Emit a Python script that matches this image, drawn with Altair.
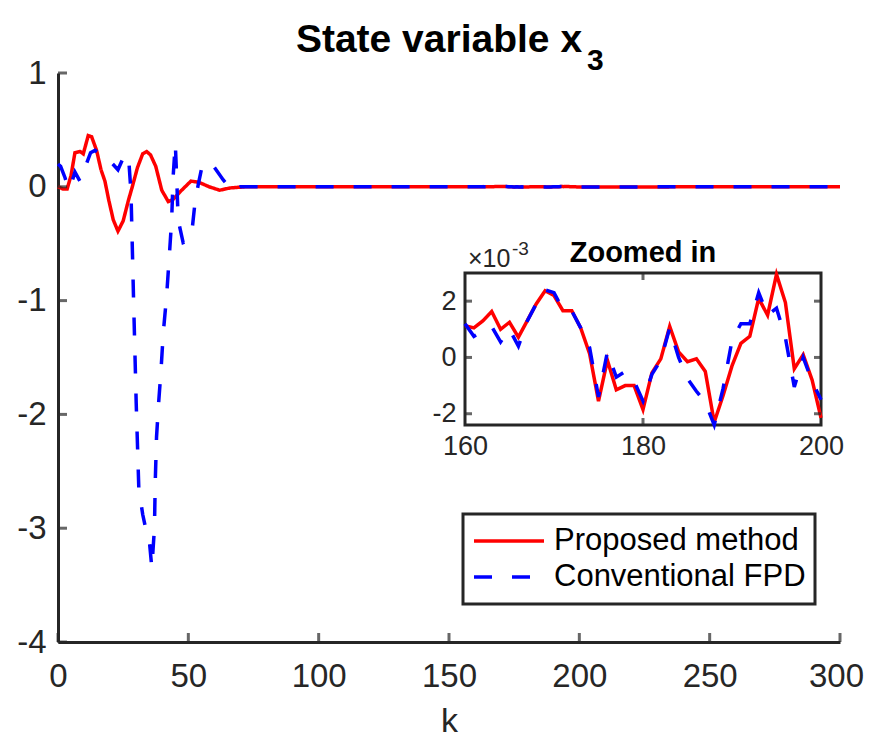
import altair as alt
import pandas as pd

# ---------------- data ----------------
methods = ["Proposed method", "Conventional FPD"]
colors = ["#ff0000", "#0000ff"]

# transient part of the main plot (k, x3)
red_k = [0, 2, 3.5, 5, 6.5, 8.5, 9.7, 11.6, 12.9, 14.8, 16.5, 18, 19.5, 21.2, 23, 25, 27, 28.5,
         30.5, 32.5, 34, 35.5, 37.5, 39.8, 42.3, 44.2, 47, 51, 54, 58, 62, 66, 72, 80, 150]
red_v = [0.0, -0.02, -0.02, 0.1, 0.3, 0.31, 0.29, 0.45, 0.44, 0.32, 0.15, 0.05, -0.12, -0.29,
         -0.39, -0.3, -0.12, 0.0, 0.17, 0.29, 0.31, 0.28, 0.18, -0.03, -0.13, -0.11, -0.04, 0.05,
         0.04, 0.0, -0.03, -0.01, 0.0, 0.0, 0.0]

blue_k = [0, 1, 2.7, 4, 5.2, 6.5, 8.4, 10.4, 12.5, 14.2, 16.8, 19.3, 21, 23, 25.7, 27.2, 28, 29,
          30, 31, 32.5, 34, 35, 36, 37, 37.3, 37.8, 38.6, 39.5, 40.4, 41.7, 42.7, 43.6, 44.2, 45,
          45.5, 46.1, 48, 50, 51.3, 52.5, 53.8, 55, 56.5, 58.3, 60, 63.4, 67.2, 70, 80, 150]
blue_v = [0.2, 0.18, 0.08, -0.02, 0.03, 0.13, 0.05, 0.17, 0.3, 0.32, 0.28, 0.24, 0.2, 0.15, 0.29,
          0.22, -0.05, -1.0, -1.9, -2.65, -2.88, -3.04, -3.1, -3.35, -3.0, -2.6, -2.2, -1.9, -1.62,
          -1.28, -0.95, -0.61, -0.29, 0.1, 0.38, 0.1, -0.29, -0.49, -0.47, -0.41, -0.15, 0.02, 0.15,
          0.2, 0.22, 0.17, 0.06, -0.04, 0.0, 0.0, 0.0]

# zoomed part, k = 160..200, values in units of 1e-3
inset_k = list(range(160, 201))
red_in = [1.13, 1.05, 1.3, 1.63, 1.0, 1.25, 0.72, 1.31, 1.9, 2.37, 2.2, 1.66, 1.66, 1.05, 0.13,
          -1.55, -0.1, -1.15, -1.0, -1.0, -1.85, -0.55, -0.05, 1.1, 0.2, -0.15, -0.05, -0.5,
          -2.3, -1.35, -0.3, 0.5, 0.75, 2.1, 1.5, 2.95, 1.95, -0.4, 0.1, -0.8, -2.15]
blue_in = [1.2, 0.75, 0.95, 1.1, 0.55, 1.0, 0.4, 1.3, 1.9, 2.4, 2.3, 1.7, 1.65, 1.05, 0.35,
           -1.4, 0.2, -0.7, -0.5, -0.85, -1.55, -0.6, -0.1, 1.05, 0.0, -0.75, -1.2, -1.6,
           -2.4, -1.1, 0.6, 1.2, 1.2, 2.3, 1.5, 1.75, 0.7, -1.05, 0.0, -0.85, -1.5]

tail_k = [250, 300]
tail_v = [0.0, 0.0]

x_ticks = [0, 50, 100, 150, 200, 250, 300]
y_ticks = [-4, -3, -2, -1, 0, 1]
inset_x_ticks = [160, 180, 200]
inset_y_ticks = [-2, 0, 2]
inset_x_dom = [160, 200]
inset_y_dom = [-2.4, 3.0]

title_main = "State variable x"
title_sub = "3"
inset_title = "Zoomed in"
inset_exp_base = "×10"
inset_exp_pow = "-3"

# ---------------- layout ----------------
W, H = 782, 569
IX0, IX1, IY0, IY1 = 407, 763, 200, 352
FONT = "Liberation Sans"
AX = "#262626"

red_df = pd.DataFrame({"k": red_k + inset_k + tail_k,
                       "v": red_v + [v * 1e-3 for v in red_in] + tail_v,
                       "method": methods[0]})
blue_df = pd.DataFrame({"k": blue_k + inset_k + tail_k,
                        "v": blue_v + [v * 1e-3 for v in blue_in] + tail_v,
                        "method": methods[1]})
ired_df = pd.DataFrame({"k": inset_k, "v": red_in})
iblue_df = pd.DataFrame({"k": inset_k, "v": blue_in})

xs = alt.Scale(domain=[0, 300], nice=False, zero=False)
ys = alt.Scale(domain=[-4, 1], nice=False, zero=False)

xaxis = alt.Axis(values=x_ticks, labelFontSize=33, labelFont=FONT, labelColor=AX,
                 labelPadding=18, labelFlush=False, ticks=False, domainColor=AX,
                 domainWidth=3, grid=False, title="k", titleFontSize=34, titleFont=FONT,
                 titleFontWeight="normal", titleColor=AX, titleY=89,
                 titleBaseline="alphabetic", labelExpr="toString(datum.value)",
                 labelOffset={"condition": {"test": "datum.value == 300", "value": -4},
                              "value": 0})
yaxis = alt.Axis(values=y_ticks, labelFontSize=33, labelFont=FONT, labelColor=AX,
                 labelPadding=12, ticks=False, domainColor=AX, domainWidth=3, grid=False,
                 title=None, labelExpr="toString(datum.value)")

leg = alt.Legend(title=None, orient="none", legendX=405, legendY=441, direction="vertical",
                 symbolType="stroke", symbolSize=4900, symbolStrokeWidth=3.5,
                 labelFontSize=31, labelFont=FONT, labelColor="#000000", labelLimit=500,
                 padding=9, labelOffset=8, clipHeight=36, rowPadding=0, strokeColor=AX,
                 fillColor="#ffffff", cornerRadius=0)
cscale = alt.Scale(domain=methods, range=colors)
dscale = alt.Scale(domain=methods, range=[[1, 0], [18, 20]])


def main_line(df):
    return alt.Chart(df).mark_line(strokeWidth=3.5).encode(
        x=alt.X("k:Q", scale=xs, axis=xaxis),
        y=alt.Y("v:Q", scale=ys, axis=yaxis),
        color=alt.Color("method:N", scale=cscale, legend=leg),
        strokeDash=alt.StrokeDash("method:N", scale=dscale, legend=leg),
        order="k:Q",
    )


xt = alt.Chart(pd.DataFrame({"k": x_ticks})).mark_tick(
    orient="vertical", size=9, thickness=3, yOffset=-4.5, color=AX
).encode(x=alt.X("k:Q", scale=xs, axis=xaxis), y=alt.datum(-4))
yt = alt.Chart(pd.DataFrame({"v": y_ticks})).mark_tick(
    orient="horizontal", size=9, thickness=3, xOffset=4.5, color=AX
).encode(y=alt.Y("v:Q", scale=ys, axis=yaxis), x=alt.datum(0))

t1 = alt.Chart(pd.DataFrame({"t": [title_main]})).mark_text(
    font=FONT, fontSize=39, fontWeight="bold", align="center", baseline="alphabetic",
    color="#000000"
).encode(text="t:N", x=alt.value(381), y=alt.value(-21))
t2 = alt.Chart(pd.DataFrame({"t": [title_sub]})).mark_text(
    font=FONT, fontSize=30, fontWeight="bold", align="left", baseline="alphabetic",
    color="#000000"
).encode(text="t:N", x=alt.value(529), y=alt.value(-3))

main = alt.layer(main_line(red_df), main_line(blue_df), xt, yt, t1, t2)

# ---------------- inset ----------------
ixs = alt.Scale(domain=inset_x_dom, range=[IX0, IX1], nice=False, zero=False)
iys = alt.Scale(domain=inset_y_dom, range=[IY1, IY0], nice=False, zero=False)
ixaxis = alt.Axis(orient="bottom", offset=-(H - IY1), values=inset_x_ticks, labelFontSize=27,
                  labelFont=FONT, labelColor=AX, labelPadding=8, labelFlush=False,
                  ticks=False, domain=False, grid=False, title=None)
iyaxis = alt.Axis(orient="left", offset=-IX0, values=inset_y_ticks, labelFontSize=27,
                  labelFont=FONT, labelColor=AX, labelPadding=9, ticks=False, domain=False,
                  grid=False, title=None, labelExpr="toString(datum.value)")

box = alt.Chart(pd.DataFrame({"x0": [inset_x_dom[0]], "x1": [inset_x_dom[1]],
                              "y0": [inset_y_dom[0]], "y1": [inset_y_dom[1]]})).mark_rect(
    fill="#ffffff", stroke=AX, strokeWidth=3
).encode(x=alt.X("x0:Q", scale=ixs, axis=ixaxis), x2="x1",
         y=alt.Y("y0:Q", scale=iys, axis=iyaxis), y2="y1")

ired = alt.Chart(ired_df).mark_line(strokeWidth=3.5, color=colors[0]).encode(
    x=alt.X("k:Q", scale=ixs, axis=ixaxis), y=alt.Y("v:Q", scale=iys, axis=iyaxis))
iblue = alt.Chart(iblue_df).mark_line(strokeWidth=3.5, color=colors[1],
                                      strokeDash=[18, 20]).encode(
    x=alt.X("k:Q", scale=ixs, axis=ixaxis), y=alt.Y("v:Q", scale=iys, axis=iyaxis))

ixt_b = alt.Chart(pd.DataFrame({"k": inset_x_ticks[1:-1]})).mark_tick(
    orient="vertical", size=7, thickness=3, yOffset=-3.5, color=AX
).encode(x=alt.X("k:Q", scale=ixs, axis=ixaxis), y=alt.datum(inset_y_dom[0]))
ixt_t = alt.Chart(pd.DataFrame({"k": inset_x_ticks[1:-1]})).mark_tick(
    orient="vertical", size=7, thickness=3, yOffset=3.5, color=AX
).encode(x=alt.X("k:Q", scale=ixs, axis=ixaxis), y=alt.datum(inset_y_dom[1]))
iyt_l = alt.Chart(pd.DataFrame({"v": inset_y_ticks})).mark_tick(
    orient="horizontal", size=7, thickness=3, xOffset=3.5, color=AX
).encode(y=alt.Y("v:Q", scale=iys, axis=iyaxis), x=alt.datum(inset_x_dom[0]))
iyt_r = alt.Chart(pd.DataFrame({"v": inset_y_ticks})).mark_tick(
    orient="horizontal", size=7, thickness=3, xOffset=-3.5, color=AX
).encode(y=alt.Y("v:Q", scale=iys, axis=iyaxis), x=alt.datum(inset_x_dom[1]))

it = alt.Chart(pd.DataFrame({"t": [inset_title]})).mark_text(
    font=FONT, fontSize=29, fontWeight="bold", align="center", baseline="alphabetic",
    dy=-11, color="#000000"
).encode(text="t:N", x=alt.datum(180), y=alt.datum(inset_y_dom[1]))
ie1 = alt.Chart(pd.DataFrame({"t": [inset_exp_base]})).mark_text(
    font=FONT, fontSize=25, align="left", baseline="alphabetic", dx=3, dy=-6, color=AX
).encode(text="t:N", x=alt.datum(inset_x_dom[0]), y=alt.datum(inset_y_dom[1]))
ie2 = alt.Chart(pd.DataFrame({"t": [inset_exp_pow]})).mark_text(
    font=FONT, fontSize=19, align="left", baseline="alphabetic", dx=47, dy=-18, color=AX
).encode(text="t:N", x=alt.datum(inset_x_dom[0]), y=alt.datum(inset_y_dom[1]))

inset = alt.layer(box, ired, iblue, ixt_b, ixt_t, iyt_l, iyt_r, it, ie1, ie2)

chart = alt.layer(main, inset).resolve_scale(
    x="independent", y="independent"
).properties(
    width=W, height=H,
    padding={"left": 50, "top": 65, "right": 24, "bottom": 96},
    autosize=alt.AutoSizeParams(type="none"),
    background="#ffffff",
).configure_view(strokeWidth=0).configure_legend(strokeWidth=3)

chart.save("out.html", embed_options={"renderer": "svg", "actions": False})
